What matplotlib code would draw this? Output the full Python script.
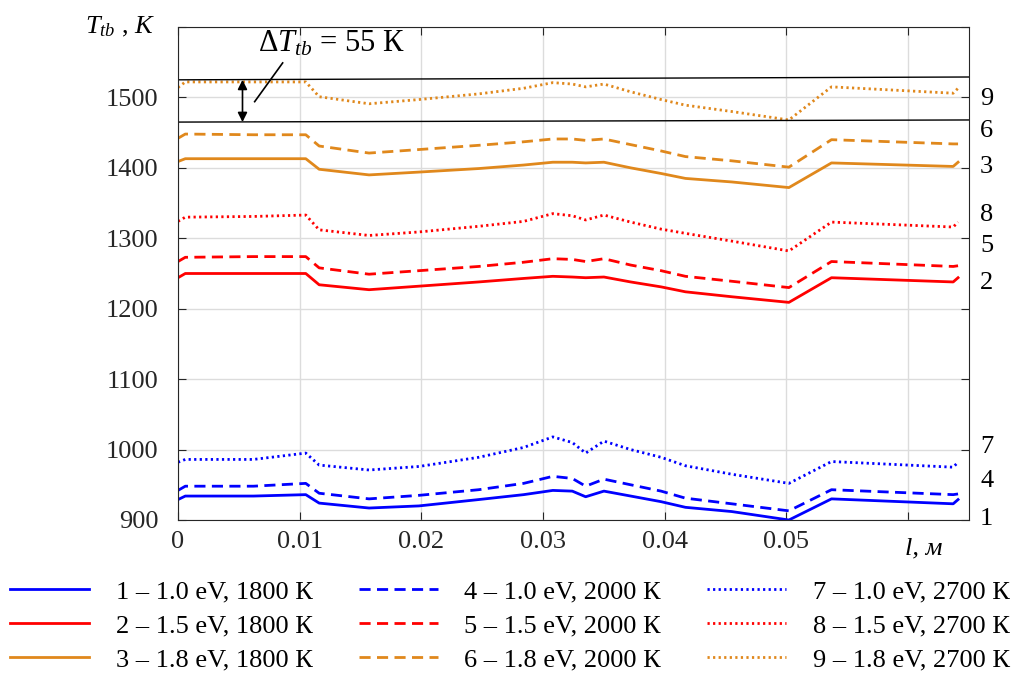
import matplotlib
matplotlib.use("Agg")
import matplotlib.pyplot as plt
import matplotlib.transforms as mtransforms

plt.rcParams['font.family'] = 'Liberation Serif'
plt.rcParams['mathtext.fontset'] = 'custom'
plt.rcParams['mathtext.rm'] = 'Liberation Serif'
plt.rcParams['mathtext.it'] = 'Liberation Serif:italic'

# Dane
l_m = [0, 0.0006, 0.0062, 0.0105, 0.0116, 0.0157, 0.0198, 0.0247, 0.0284, 0.0308, 0.0324,
       0.0335, 0.0350, 0.0372, 0.0397, 0.0417, 0.0455, 0.0502, 0.0537, 0.0637, 0.0641]

T1 = [929, 934, 934, 936, 924, 917, 920, 929, 936, 942, 941, 933, 941, 934, 926, 918, 912, 900, 930, 923, 929]
T2 = [1244, 1250, 1250, 1250, 1234, 1227, 1232, 1238, 1243, 1246, 1245, 1244, 1245, 1238, 1231, 1224, 1217, 1209, 1244, 1238, 1244]
T3 = [1409, 1413, 1413, 1413, 1398, 1390, 1394, 1399, 1404, 1408, 1408, 1407, 1408, 1400, 1392, 1385, 1380, 1372, 1407, 1402, 1408]
T4 = [942, 948, 948, 952, 938, 930, 935, 943, 952, 962, 959, 948, 958, 950, 941, 931, 923, 913, 943, 936, 937]
T5 = [1267, 1273, 1274, 1274, 1258, 1249, 1254, 1260, 1266, 1271, 1270, 1267, 1271, 1262, 1254, 1246, 1239, 1230, 1267, 1260, 1261]
T6 = [1442, 1448, 1447, 1447, 1431, 1421, 1426, 1432, 1437, 1441, 1441, 1439, 1441, 1433, 1424, 1416, 1410, 1401, 1440, 1434, 1434]
T7 = [982, 986, 986, 995, 978, 971, 976, 989, 1003, 1018, 1010, 995, 1012, 1000, 989, 977, 965, 952, 983, 975, 982]
T8 = [1324, 1330, 1331, 1333, 1312, 1304, 1309, 1317, 1324, 1335, 1332, 1326, 1333, 1323, 1313, 1307, 1296, 1282, 1323, 1316, 1323]
T9 = [1514, 1522, 1522, 1522, 1501, 1491, 1497, 1505, 1513, 1521, 1519, 1515, 1519, 1508, 1497, 1489, 1480, 1468, 1515, 1506, 1513]

series = [T1, T2, T3, T4, T5, T6, T7, T8, T9]
labels = ['1 – 1.0 eV, 1800 К', '2 – 1.5 eV, 1800 К', '3 – 1.8 eV, 1800 К',
          '4 – 1.0 eV, 2000 К', '5 – 1.5 eV, 2000 К', '6 – 1.8 eV, 2000 К',
          '7 – 1.0 eV, 2700 К', '8 – 1.5 eV, 2700 К', '9 – 1.8 eV, 2700 К']
curve_ids = ['1', '2', '3', '4', '5', '6', '7', '8', '9']
id_pos = [902, 1237, 1401, 955, 1289, 1452, 1003, 1333, 1498]

# linie ΔT
band_x = [0, 0.065]
band_top = [1525, 1529]
band_bot = [1465, 1468]

colors = ['#0000FF', '#FF0000', '#E0881C']
styles = ['-', (0, (4, 2.3)), (0, (0.8, 1.2))]

fig = plt.figure(figsize=(10.23, 6.78), dpi=100)
ax = fig.add_axes([178 / 1023, 1 - 520 / 678, 791 / 1023, 493 / 678])

handles = []
for i, T in enumerate(series):
    h, = ax.plot(l_m, T, color=colors[i % 3], linestyle=styles[i // 3], lw=2, label=labels[i])
    handles.append(h)

ax.plot(band_x, band_top, color='black', lw=1)
ax.plot(band_x, band_bot, color='black', lw=1)
ax.annotate('', xy=(0.0053, band_top[0]), xytext=(0.0053, band_bot[0]),
            arrowprops=dict(arrowstyle='<|-|>', color='black', lw=1.2, mutation_scale=14,
                            shrinkA=0, shrinkB=0))
ax.plot([0.0063, 0.0086], [1494, 1549], color='black', lw=1.2)
ax.text(0.0066, 1576, r'$\Delta\mathit{T}_{\mathit{tb}}$ = 55 К', fontsize=22, va='center', ha='left')

ax.set_xlim(0, 0.065)
ax.set_ylim(900, 1600)
ax.set_xticks([0, 0.01, 0.02, 0.03, 0.04, 0.05, 0.06])
ax.set_xticklabels(['0', '0.01', '0.02', '0.03', '0.04', '0.05', ''])
ax.set_yticks([900, 1000, 1100, 1200, 1300, 1400, 1500, 1600])
ax.set_yticklabels(['900', '1000', '1100', '1200', '1300', '1400', '1500', ''])
ax.tick_params(direction='in', length=6, top=True, right=True, labelsize=19, colors='#262626')
ax.tick_params(axis='y', pad=14)
ax.tick_params(axis='x', pad=8)
ax.grid(True, color='#DCDCDC', lw=1)
for s in ax.spines.values():
    s.set_color('#262626')

trans = mtransforms.blended_transform_factory(ax.transAxes, ax.transData)
for cid, yp in zip(curve_ids, id_pos):
    ax.text(1.014, yp, cid, transform=trans, fontsize=19, va='center', ha='left')

fig.text(85 / 1023, 1 - 27 / 678, r'$\mathit{T}_{\mathit{tb}}$ , $\mathit{К}$', fontsize=19, va='center', ha='left')
fig.text(905 / 1023, 1 - 548 / 678, 'l, м', fontsize=19, style='italic', va='center', ha='left')

fig.legend(handles=handles, loc='upper left', bbox_to_anchor=(10 / 1023, 1 - 580 / 678), ncol=3,
           frameon=False, fontsize=19, handlelength=3.0, handletextpad=1.0, columnspacing=1.75,
           labelspacing=0.4, borderaxespad=0, borderpad=0)

fig.savefig('out.png', dpi=100)
